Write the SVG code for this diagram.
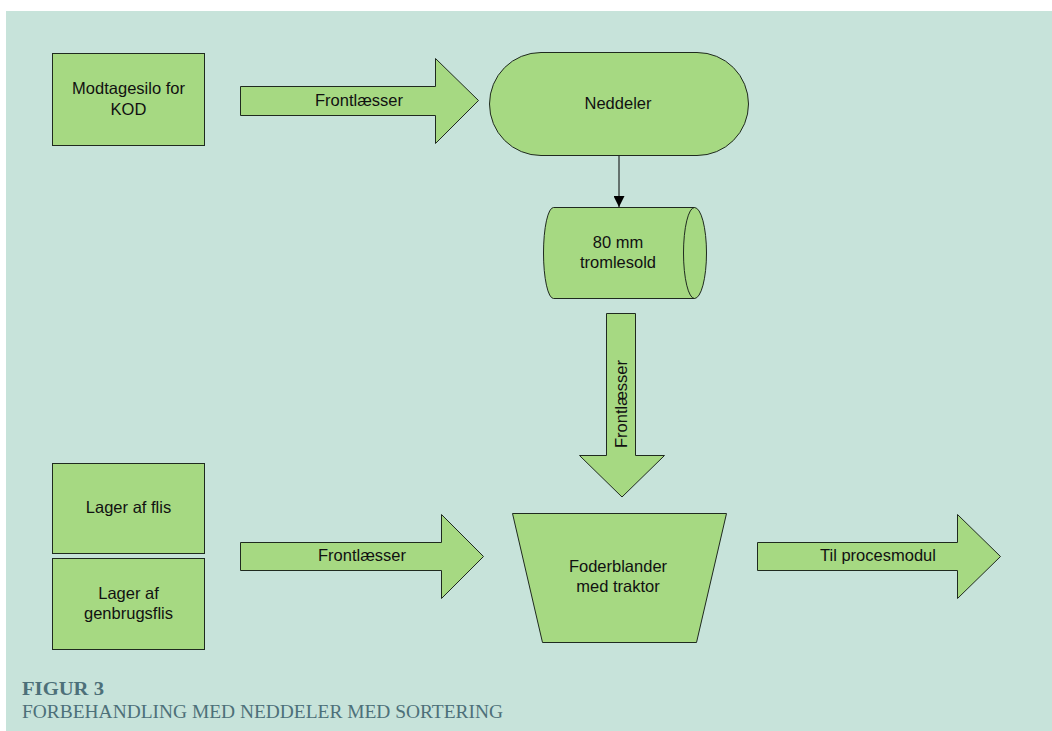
<svg xmlns="http://www.w3.org/2000/svg" width="1052" height="731" viewBox="0 0 1052 731">
  <style>
    .shape { fill: #a6d982; stroke: #1f2a1f; stroke-width: 1; }
    .lbl { font-family: "Liberation Sans", Arial, sans-serif; font-size: 16.5px; fill: #111; text-anchor: middle; }
    .cap { font-family: "Liberation Serif", "Times New Roman", serif; fill: #4d7079; }
    .conn { stroke: #000; stroke-width: 1; fill: none; }
  </style>
  <defs>
    <marker id="arrowhead" viewBox="0 0 10 10" refX="10" refY="5" markerWidth="11" markerHeight="11" markerUnits="userSpaceOnUse" orient="auto">
      <path d="M0,0 L10,5 L0,10 Z" fill="#000"/>
    </marker>
  </defs>

  <!-- background panel -->
  <rect x="0" y="0" width="1052" height="731" fill="#ffffff"/>
  <rect x="6" y="11" width="1046" height="720" fill="#c7e3da"/>

  <!-- connectors -->
  <g id="connectors">
    <line class="conn" x1="619" y1="155" x2="619" y2="207" marker-end="url(#arrowhead)"/>
  </g>

  <g id="modtagesilo">
    <rect class="shape" x="52.5" y="53.5" width="152" height="92"/>
    <text class="lbl" x="128.5" y="94">Modtagesilo for</text>
    <text class="lbl" x="128.5" y="115">KOD</text>
  </g>

  <g id="frontlaesser-1">
    <path class="shape" d="M240.5,86.5 L435.5,86.5 L435.5,58.5 L478.5,100.5 L435.5,143.5 L435.5,115.5 L240.5,115.5 Z"/>
    <text class="lbl" x="359" y="106">Frontlæsser</text>
  </g>

  <g id="neddeler">
    <rect class="shape" x="489.5" y="52.5" width="259" height="103" rx="51.5" ry="51.5"/>
    <text class="lbl" x="618" y="109">Neddeler</text>
  </g>

  <g id="tromlesold">
    <path class="shape" d="M553.5,207.5 L694.5,207.5 A12,45.5 0 0 1 694.5,298.5 L553.5,298.5 A10,45.5 0 0 1 553.5,207.5 Z"/>
    <path class="shape" d="M694.5,207.5 A11,45.5 0 0 0 694.5,298.5" style="fill:none"/>
    <text class="lbl" x="618" y="248">80 mm</text>
    <text class="lbl" x="618" y="268">tromlesold</text>
  </g>

  <g id="frontlaesser-2">
    <path class="shape" d="M606.5,313.5 L635.5,313.5 L635.5,455.5 L664.5,455.5 L622,497 L579.5,455.5 L606.5,455.5 Z"/>
    <text class="lbl" transform="translate(627,404) rotate(-90)" x="0" y="0">Frontlæsser</text>
  </g>

  <g id="lager-flis">
    <rect class="shape" x="52.5" y="463.5" width="152" height="90"/>
    <text class="lbl" x="128.5" y="513">Lager af flis</text>
  </g>

  <g id="lager-genbrugsflis">
    <rect class="shape" x="52.5" y="558.5" width="152" height="91"/>
    <text class="lbl" x="128.5" y="599">Lager af</text>
    <text class="lbl" x="128.5" y="619">genbrugsflis</text>
  </g>

  <g id="frontlaesser-3">
    <path class="shape" d="M240.5,542.5 L441.5,542.5 L441.5,514.5 L483.5,556.5 L441.5,598.5 L441.5,570.5 L240.5,570.5 Z"/>
    <text class="lbl" x="362" y="561">Frontlæsser</text>
  </g>

  <g id="foderblander">
    <path class="shape" d="M512.5,513.5 L726.5,513.5 L696.5,642.5 L542.5,642.5 Z"/>
    <text class="lbl" x="618" y="572">Foderblander</text>
    <text class="lbl" x="618" y="592">med traktor</text>
  </g>

  <g id="til-procesmodul">
    <path class="shape" d="M757.5,542.5 L957.5,542.5 L957.5,514.5 L1000.5,556.5 L957.5,598.5 L957.5,570.5 L757.5,570.5 Z"/>
    <text class="lbl" x="878" y="561">Til procesmodul</text>
  </g>

  <!-- caption -->
  <text class="cap" x="22" y="695" font-size="18" font-weight="bold" textLength="82" lengthAdjust="spacingAndGlyphs">FIGUR 3</text>
  <text class="cap" x="22" y="718" font-size="18" textLength="481" lengthAdjust="spacingAndGlyphs">FORBEHANDLING MED NEDDELER MED SORTERING</text>
</svg>
